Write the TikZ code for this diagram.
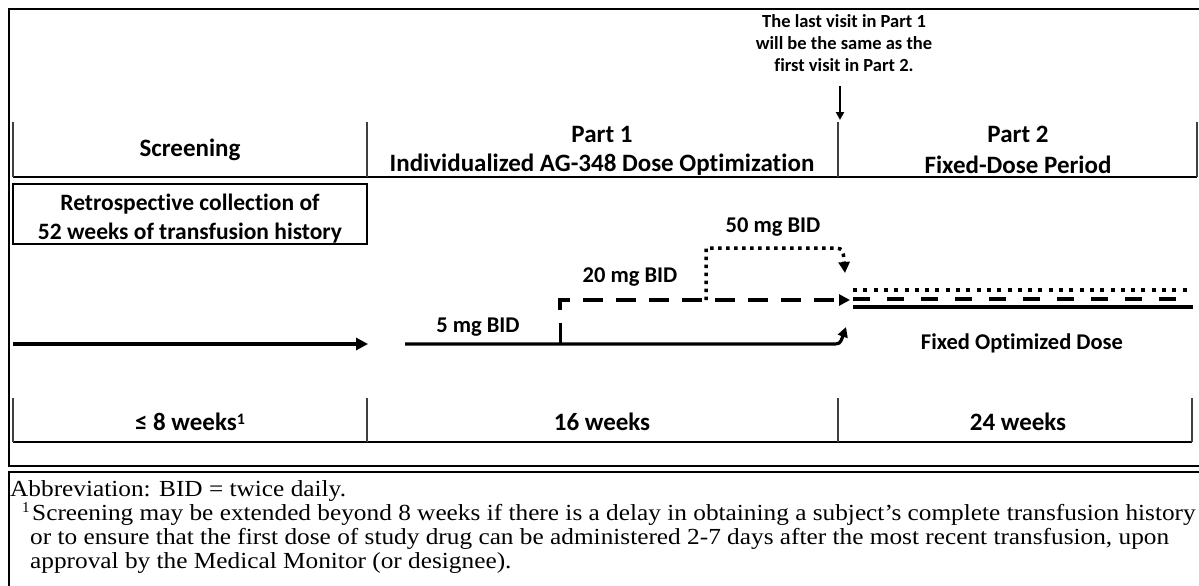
\documentclass[tikz,border=0pt]{standalone}
\usepackage{fontspec}
\setmainfont{Liberation Serif}
\newfontfamily\calfont[Ligatures={NoCommon}]{Carlito}
\usetikzlibrary{arrows.meta}
\newcommand{\fnx}[1]{\scalebox{1.1}[1]{#1}}
\begin{document}
\begin{tikzpicture}[x=1pt,y=-1pt,
  hdr/.style={font=\calfont\bfseries\fontsize{25}{30}\selectfont, inner sep=0pt},
  box/.style={font=\calfont\bfseries\fontsize{23.5}{29}\selectfont, inner sep=0pt, align=center},
  lbl/.style={font=\calfont\bfseries\fontsize{22.5}{26}\selectfont, inner sep=0pt},
  ann/.style={font=\calfont\bfseries\fontsize{18.5}{22}\selectfont, inner sep=0pt, align=center},
  fn/.style={font=\fontsize{23}{24}\selectfont, inner sep=0pt, anchor=west},
  frame/.style={line width=2pt, black},
  rule/.style={line width=2.6pt, black},
  vrule/.style={line width=2pt, black!75},
  solidarr/.style={line width=3.5pt, -{Triangle[length=12pt,width=12pt]}},
  dasharr/.style={line width=3.5pt, dash pattern=on 20pt off 13pt, -{Triangle[length=11pt,width=11pt]}},
  dotarr/.style={line width=3.5pt, dash pattern=on 3.5pt off 4.5pt, -{Triangle[length=11pt,width=11pt]}},
]
\useasboundingbox (0,0) rectangle (1199,586);
% frames
\draw[frame] (9,9) rectangle (1215,466);
\draw[frame] (9,472) rectangle (1215,600);
% annotation
\node[ann] (note) at (844,43) {The last visit in Part 1\\will be the same as the\\first visit in Part 2.};
\coordinate (visTop) at (840,86);
\coordinate (visBot) at (840,120);
\draw[line width=2pt, -{Triangle[length=8pt,width=8pt]}] (visTop) -- (visBot);
% header row
\draw[rule] (13,177) -- (1197,177);
\draw[vrule] (13,122) -- (13,177);
\draw[vrule] (367,122) -- (367,177);
\draw[vrule] (838,122) -- (838,177);
\draw[vrule] (1197,122) -- (1197,177);
\node[hdr] (scr) at (190,150) {Screening};
\node[hdr] (p1) at (602,134) {Part 1};
\node[hdr] (p1b) at (602,165) {Individualized AG-348 Dose Optimization};
\node[hdr] (p2) at (1018,134) {Part 2};
\node[hdr] (p2b) at (1018,165) {Fixed-Dose Period};
% retrospective box
\draw[line width=1.6pt] (13,184) rectangle (367,244);
\node[box] (retro) at (190,219) {Retrospective collection of\\52 weeks of transfusion history};
% screening arrow
\coordinate (s0) at (13,344);
\coordinate (s1) at (368,344);
\draw[solidarr] (s0) -- (s1);
% part 1 doses
\coordinate (a0) at (405,344);
\coordinate (a1) at (831,344);
\coordinate (a2) at (846,327);
\draw[line width=3.2pt, -{Triangle[length=10pt,width=10pt]}] (a0) -- (a1) .. controls (840,344) .. (a2);
\coordinate (t0) at (560,344);
\coordinate (t1) at (560,323);
\draw[line width=3pt] (t0) -- (t1);
\node[lbl] (d5) at (478,327) {5 mg BID};
\coordinate (b0) at (560,310);
\coordinate (b1) at (560,300);
\coordinate (b2) at (850,300);
\draw[dasharr] (b0) -- (b1) -- (b2);
\node[lbl] (d20) at (630,277) {20 mg BID};
\coordinate (c0) at (706,300);
\coordinate (c1) at (706,248);
\coordinate (c2) at (830,248);
\coordinate (c3) at (845,273);
\draw[dotarr] (c0) -- (c1) -- (c2) .. controls (843,248) .. (c3);
\node[lbl] (d50) at (773,227) {50 mg BID};
% part 2 lines
\coordinate (p0) at (853,290);
\coordinate (p1e) at (1192,290);
\draw[line width=3.5pt, dash pattern=on 4pt off 6.3pt] (p0) -- (p1e);
\coordinate (q0) at (853,299);
\coordinate (q1) at (1182,299);
\draw[line width=3.5pt, dash pattern=on 17pt off 17pt] (q0) -- (q1);
\coordinate (r0) at (853,307);
\coordinate (r1) at (1193,307);
\draw[line width=4pt] (r0) -- (r1);
\node[lbl] (fod) at (1022,343) {Fixed Optimized Dose};
% bottom row
\draw[rule] (13,442) -- (1192,442);
\draw[vrule] (13,398) -- (13,442);
\draw[vrule] (367,398) -- (367,442);
\draw[vrule] (838,398) -- (838,442);
\draw[vrule] (1192,398) -- (1192,442);
\node[hdr] (w8) at (190,422) {≤ 8 weeks{\fontsize{16}{16}\selectfont\raisebox{6pt}{1}}};
\node[hdr] (w16) at (602,422) {16 weeks};
\node[hdr] (w24) at (1018,422) {24 weeks};
% footnote
\node[fn] (fn1) at (10,491) {\fnx{Abbreviation: BID = twice daily.}};
\node[fn, font=\fontsize{15}{16}\selectfont] (fnsup) at (22,508) {1};
\node[fn] (fn2) at (32,515) {\fnx{Screening may be extended beyond 8 weeks if there is a delay in obtaining a subject’s complete transfusion history}};
\node[fn] (fn3) at (30,539) {\fnx{or to ensure that the first dose of study drug can be administered 2-7 days after the most recent transfusion, upon}};
\node[fn] (fn4) at (30,563) {\fnx{approval by the Medical Monitor (or designee).}};
\end{tikzpicture}
\end{document}
